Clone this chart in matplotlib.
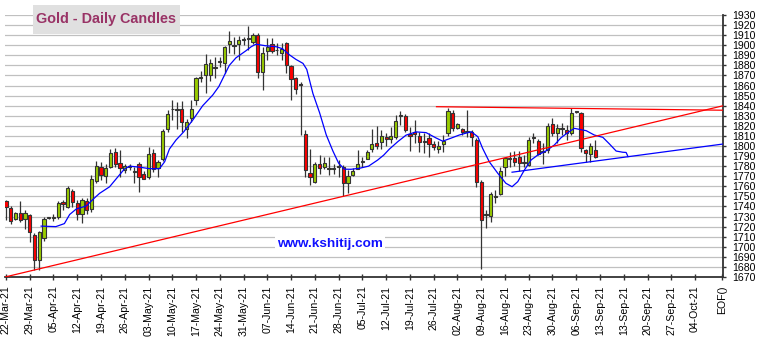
import matplotlib
matplotlib.use("Agg")
import matplotlib.pyplot as plt
from matplotlib.patches import Rectangle

plt.rcParams['font.family'] = ['Liberation Sans', 'DejaVu Sans']

# ---------------- data ----------------
opens = [1745, 1738, 1728, 1734, 1728, 1732, 1712, 1687, 1709, 1728.3,
         1729, 1730, 1744, 1739, 1755.5, 1743.6, 1733, 1745, 1737, 1765.4,
         1778.7, 1770, 1779, 1793.6, 1783, 1776, 1779, 1774.5, 1781.7, 1772.7,
         1769.3, 1793, 1778, 1787, 1816.4, 1836.3, 1835.8, 1837, 1816.8, 1827.4,
         1846, 1867.8, 1870.4, 1870, 1877.5, 1883.4, 1882, 1900.9, 1899.3, 1901,
         1904.8, 1905.8, 1903.5, 1910, 1873, 1894.6, 1901, 1895.2, 1892, 1902,
         1879.3, 1867, 1860.8, 1811.5, 1773.7, 1764.4, 1782.6, 1779, 1777.5, 1777.2,
         1778.8, 1778.7, 1762.8, 1771, 1777.4, 1783.8, 1787.3, 1797.2, 1803, 1803.5,
         1809, 1807, 1808.5, 1829.5, 1830, 1811.8, 1814, 1809.8, 1803.8, 1807.5,
         1801.8, 1797.2, 1801.5, 1812.6, 1832.3, 1817.4, 1816.4, 1813.8, 1814, 1805.8,
         1764.4, 1731.8, 1730.3, 1749.8, 1752, 1779.3, 1786.8, 1788.3, 1789.3, 1783.4,
         1781, 1807.8, 1804.8, 1793.8, 1796, 1821.7, 1812.5, 1816.6, 1815.8, 1812.5,
         1834.2, 1833, 1795.9, 1792, 1795.9]
highs = [1746, 1740, 1735, 1745, 1736, 1732.5, 1714, 1716, 1730, 1729,
         1733, 1745, 1746, 1760, 1757, 1746, 1748, 1748, 1771, 1785,
         1784, 1782, 1797.5, 1798.5, 1796, 1782, 1782, 1779, 1784, 1775,
         1799, 1797, 1786, 1817, 1835.6, 1845.6, 1844, 1845, 1827, 1846,
         1868.7, 1874.7, 1891, 1886, 1888.6, 1888.6, 1899, 1914.4, 1908.5, 1909,
         1908, 1919, 1912, 1912, 1898.5, 1906.8, 1906.8, 1902, 1902, 1903.5,
         1880, 1868.7, 1863.8, 1815.8, 1797.5, 1784, 1791, 1789, 1789, 1782.6,
         1786, 1781, 1776, 1777.7, 1796, 1789, 1796, 1816.4, 1819.7, 1815.8,
         1812.5, 1819, 1830.7, 1834.6, 1831.7, 1819, 1825.7, 1814, 1812.5, 1812.5,
         1805, 1805, 1810.8, 1837.5, 1835.6, 1823, 1817.4, 1835.6, 1815.8, 1807.5,
         1766, 1736, 1754.5, 1756, 1779.3, 1789, 1794, 1795, 1795, 1791,
         1809, 1812.5, 1806.5, 1802.5, 1823, 1827.4, 1821.7, 1822.4, 1820.7, 1837.3,
         1835, 1834, 1797.5, 1803, 1805.8]
lows = [1727, 1723, 1727, 1725, 1718, 1705, 1677, 1677, 1706, 1728,
        1726, 1728, 1736, 1738, 1739, 1727, 1724, 1733, 1735, 1763.5,
        1766, 1763.5, 1777.7, 1779, 1769.4, 1773, 1776, 1763, 1754.5, 1767,
        1767, 1774, 1769, 1785, 1814, 1825.7, 1817, 1814, 1808, 1824,
        1840.6, 1863.8, 1852.8, 1864.8, 1867, 1878.7, 1872, 1892, 1891, 1885,
        1900, 1895, 1901, 1867, 1855.5, 1885.3, 1892, 1890, 1885, 1872,
        1846, 1852, 1811, 1769.4, 1761, 1763, 1772.7, 1776.7, 1771, 1772.7,
        1769.4, 1750.2, 1753.5, 1770, 1776.7, 1779, 1786.7, 1794, 1796.6, 1796.6,
        1800, 1803, 1806.5, 1820.7, 1814, 1795, 1802.5, 1794, 1793, 1789,
        1796, 1793.3, 1794, 1809.5, 1815, 1816.4, 1810.8, 1808.5, 1800, 1759.5,
        1678.3, 1719, 1724.7, 1743, 1751, 1770, 1779, 1779.7, 1775.5, 1779,
        1780, 1802.5, 1791, 1782, 1792.6, 1810, 1803, 1810.8, 1805.8, 1810.8,
        1833, 1794, 1784.3, 1784.3, 1787.6]
closes = [1739, 1726, 1734, 1727, 1734, 1715, 1687, 1715, 1728, 1728.8,
          1729.3, 1743, 1742, 1758, 1744.6, 1733, 1746, 1736, 1767, 1780,
          1771, 1777.7, 1792.6, 1782, 1778, 1780, 1779.5, 1775, 1769.4, 1767.7,
          1792, 1777, 1784, 1815, 1831.3, 1836.8, 1836.2, 1823.4, 1823.4, 1837,
          1867, 1868.3, 1881, 1882, 1878, 1883.9, 1898, 1904.2, 1899.8, 1905,
          1905.3, 1906.3, 1910, 1873.7, 1892.6, 1898.5, 1894.6, 1894.8, 1896, 1880.3,
          1866, 1857, 1860.3, 1776, 1769.4, 1782.6, 1777.7, 1783, 1778, 1777.6,
          1779.2, 1763.4, 1770.4, 1775.4, 1782.6, 1784.2, 1793.6, 1801.8, 1800, 1810,
          1806.8, 1809.8, 1824.7, 1830, 1815.8, 1809.8, 1811.8, 1803.5, 1804.2, 1801.8,
          1799.2, 1799.8, 1804.8, 1835, 1817.4, 1821.4, 1814, 1814.2, 1809, 1763.8,
          1727, 1732.2, 1752.8, 1750.2, 1775.4, 1787.6, 1787.2, 1784.3, 1783.3, 1783.8,
          1806, 1808.2, 1792, 1794.2, 1819.7, 1812.5, 1817.4, 1817, 1812.5, 1833,
          1833.8, 1798.5, 1793.2, 1799.8, 1788.6]

# displaced moving average (bar position, price)
ma_x = [7.4, 10.5, 12.3, 13.4, 14.8, 16.9, 18.3, 19.7, 21.8, 23.3, 24.9, 26.0,
        28.1, 30.2, 32.3, 33.4, 34.4, 35.8, 37.4, 39.3, 41.4, 43.5, 44.8, 46.0,
        47.0, 48.4, 50.5, 51.6, 52.6, 54.6, 56.9, 58.2, 59.7, 61.0, 62.5, 63.3,
        64.6, 66.0, 67.4, 68.8, 70.0, 71.2, 72.6, 74.4, 76.3, 78.2, 79.5, 80.7,
        82.5, 84.2, 86.3, 88.4, 90.5, 91.9, 93.5, 95.4, 97.9, 99.3, 100.3, 101.7,
        103.5, 105.2, 106.5, 107.7, 109.1, 110.5, 111.9, 113.7, 115.4, 116.8, 118.2,
        119.6, 122.1, 123.8, 125.6, 127.0, 128.4, 129.8, 130.5, 130.9]
ma_y = [1720.5, 1720, 1723, 1732, 1737.5, 1740.5, 1747, 1753, 1759.5, 1768, 1777, 1780,
        1779, 1777.5, 1777.5, 1784.4, 1797, 1806, 1814, 1825.7, 1840, 1850.5, 1859, 1870.5,
        1880, 1887.5, 1894.5, 1898.5, 1901, 1899.5, 1898.5, 1896.5, 1890.3, 1886, 1882, 1876,
        1852, 1833, 1811, 1795, 1783, 1777, 1776.9, 1777.9, 1780, 1786, 1791, 1797,
        1804.5, 1810.8, 1814, 1813.3, 1808, 1804.8, 1807.5, 1810.9, 1814.2, 1809.2, 1797.7, 1784.4,
        1772.9, 1763, 1759.6, 1764.6, 1776.2, 1786.1, 1791, 1795.3, 1801, 1808.2, 1813.2,
        1817.5, 1815.2, 1810.9, 1808.6, 1802, 1795, 1793.8, 1793.6, 1789.5]

# trend lines (bar position, price)
support_red_x = [-0.2, 150.95]
support_red_y = [1670, 1840]
resist_red_x = [90.6, 150.95]
resist_red_y = [1839, 1835.5]
support_blue_x = [106.5, 150.95]
support_blue_y = [1774, 1802]

tick_labels = ['22-Mar-21', '29-Mar-21', '05-Apr-21', '12-Apr-21', '19-Apr-21', '26-Apr-21',
               '03-May-21', '10-May-21', '17-May-21', '24-May-21', '31-May-21', '07-Jun-21',
               '14-Jun-21', '21-Jun-21', '28-Jun-21', '05-Jul-21', '12-Jul-21', '19-Jul-21',
               '26-Jul-21', '02-Aug-21', '09-Aug-21', '16-Aug-21', '23-Aug-21', '30-Aug-21',
               '06-Sep-21', '13-Sep-21', '13-Sep-21', '20-Sep-21', '27-Sep-21', '04-Oct-21']
eof_label = 'EOF()'
y_ticks = list(range(1670, 1931, 10))

# ---------------- figure ----------------
W, H = 763, 344
fig = plt.figure(figsize=(W / 100, H / 100), dpi=100)
ax = fig.add_axes([5 / W, 1 - 277 / H, (723.3 - 5) / W, (277 - 15) / H])
ax.set_xlim(-0.2, 150.95)
ax.set_ylim(1670, 1930)

ax.set_axisbelow(True)
ax.yaxis.grid(True, color='#c0c0c0', lw=0.9)
ax.xaxis.grid(False)

xs = list(range(len(opens)))
# wicks
ax.vlines(xs, lows, highs, color='#333333', lw=0.9, zorder=2)
# bodies
bottoms = [min(o, c) for o, c in zip(opens, closes)]
heights = [max(abs(c - o), 0.9) for o, c in zip(opens, closes)]
colors = ['#99cc00' if c >= o else '#ff0000' for o, c in zip(opens, closes)]
ax.bar(xs, heights, bottom=bottoms, width=0.68, color=colors,
       edgecolor='#333333', linewidth=0.8, zorder=3)

# lines
ax.plot(ma_x, ma_y, color='#0000ff', lw=0.9, zorder=4)
ax.plot(support_red_x, support_red_y, color='#ff0000', lw=0.9, zorder=4)
ax.plot(resist_red_x, resist_red_y, color='#ff0000', lw=0.9, zorder=4)
ax.plot(support_blue_x, support_blue_y, color='#0000ff', lw=0.9, zorder=4)

# axes styling
for s in ['left', 'top']:
    ax.spines[s].set_visible(False)
for s in ['bottom', 'right']:
    ax.spines[s].set_color('#333333')
    ax.spines[s].set_linewidth(1.3)

ax.yaxis.tick_right()
ax.set_yticks(y_ticks)
ax.set_yticklabels([str(v) for v in y_ticks])
ax.tick_params(axis='y', direction='out', length=2.5, width=1, color='#333333',
               labelsize=7.6, pad=4)

xt = [5 * i for i in range(len(tick_labels))] + [150.6]
ax.set_xticks(xt)
ax.set_xticklabels(tick_labels + [eof_label], rotation=90)
ax.tick_params(axis='x', direction='inout', length=4.4, width=1, color='#333333',
               labelsize=7.6, pad=4)

# watermark
ax.text(68.1, 1702.3, 'www.kshitij.com', ha='center', va='center', fontsize=9.7,
        fontweight='bold', color='#1010ff', zorder=5,
        bbox=dict(facecolor='white', edgecolor='none', boxstyle='square,pad=0.15'))

# title box
fig.add_artist(Rectangle((33 / W, 1 - 34 / H), 147 / W, 29 / H, transform=fig.transFigure,
                         facecolor='#e0e0e0', edgecolor='none', zorder=2))
fig.text(106.5 / W, 1 - 19.5 / H, 'Gold - Daily Candles', ha='center', va='center',
         fontsize=10.4, fontweight='bold', color='#993366', zorder=3)

fig.savefig('out.png', dpi=100, facecolor='white')
